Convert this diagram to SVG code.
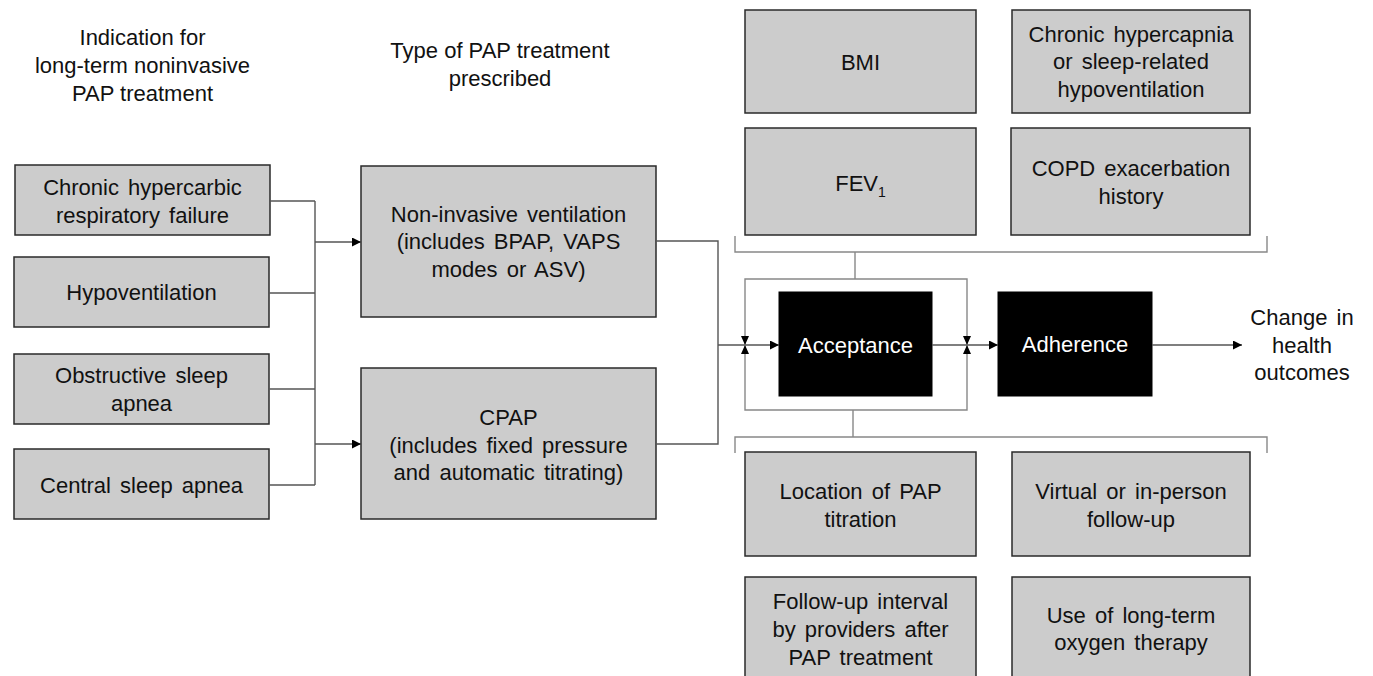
<svg xmlns="http://www.w3.org/2000/svg" width="1373" height="676" viewBox="0 0 1373 676">
<style>
text{font-family:"Liberation Sans",Arial,sans-serif;font-size:22px;fill:#111;text-anchor:middle}
g[id^="n-"] text{word-spacing:3px}
.box{fill:#cccccc;stroke:#2a2a2a;stroke-width:1.5}
.dark{fill:#000;stroke:#000}
.wt{fill:#fff}
.ln{fill:none;stroke:#555;stroke-width:1.4}
.br{fill:none;stroke:#888;stroke-width:1.4}
.sub{font-size:14px}
</style>
<defs>
<marker id="ah" viewBox="0 0 10 10" refX="10" refY="5" markerWidth="9" markerHeight="9" markerUnits="userSpaceOnUse" orient="auto">
<path d="M0,0 L10,5 L0,10 z" fill="#000"/>
</marker>
</defs>
<g id="headers">
<text x="142.5" y="45">Indication for</text>
<text x="142.5" y="73">long-term noninvasive</text>
<text x="142.5" y="101">PAP treatment</text>
<text x="500" y="58">Type of PAP treatment</text>
<text x="500" y="86">prescribed</text>
</g>
<g id="n-chronic-hypercarbic"><rect class="box" x="15" y="165" width="255" height="70"/>
<text x="142.5" y="195">Chronic hypercarbic</text><text x="142.5" y="222.5">respiratory failure</text></g>
<g id="n-hypoventilation"><rect class="box" x="14" y="257" width="255" height="70"/>
<text x="141.5" y="300">Hypoventilation</text></g>
<g id="n-osa"><rect class="box" x="14" y="354" width="255" height="70"/>
<text x="141.5" y="383">Obstructive sleep</text><text x="141.5" y="410.5">apnea</text></g>
<g id="n-csa"><rect class="box" x="14" y="449" width="255" height="70"/>
<text x="141.5" y="493">Central sleep apnea</text></g>
<g id="n-niv"><rect class="box" x="361" y="166" width="295" height="151"/>
<text x="508.5" y="221.5">Non-invasive ventilation</text><text x="508.5" y="249">(includes BPAP, VAPS</text><text x="508.5" y="276.5">modes or ASV)</text></g>
<g id="n-cpap"><rect class="box" x="361" y="368" width="295" height="151"/>
<text x="508.5" y="425">CPAP</text><text x="508.5" y="452.5">(includes fixed pressure</text><text x="508.5" y="480">and automatic titrating)</text></g>
<g id="n-bmi"><rect class="box" x="745" y="10" width="231" height="103"/>
<text x="860.5" y="70">BMI</text></g>
<g id="n-hypercapnia"><rect class="box" x="1012" y="10" width="238" height="103"/>
<text x="1131" y="41.5">Chronic hypercapnia</text><text x="1131" y="69">or sleep-related</text><text x="1131" y="96.5">hypoventilation</text></g>
<g id="n-fev1"><rect class="box" x="745" y="128" width="231" height="107"/>
<text x="860.5" y="191">FEV<tspan class="sub" dy="6">1</tspan></text></g>
<g id="n-copd"><rect class="box" x="1011" y="128" width="239" height="107"/>
<text x="1131" y="176">COPD exacerbation</text><text x="1131" y="203.5">history</text></g>
<g id="n-acceptance"><rect class="dark" x="779" y="292" width="153" height="104"/>
<text class="wt" x="855.5" y="353">Acceptance</text></g>
<g id="n-adherence"><rect class="dark" x="998" y="292" width="154" height="104"/>
<text class="wt" x="1075" y="352">Adherence</text></g>
<g id="n-outcomes">
<text x="1302" y="325">Change in</text><text x="1302" y="353">health</text><text x="1302" y="380">outcomes</text></g>
<g id="n-location"><rect class="box" x="745" y="452" width="231" height="104"/>
<text x="860.5" y="499">Location of PAP</text><text x="860.5" y="526.5">titration</text></g>
<g id="n-virtual"><rect class="box" x="1012" y="452" width="238" height="104"/>
<text x="1131" y="499">Virtual or in-person</text><text x="1131" y="526.5">follow-up</text></g>
<g id="n-interval"><rect class="box" x="745" y="577" width="231" height="104"/>
<text x="860.5" y="609">Follow-up interval</text><text x="860.5" y="637">by providers after</text><text x="860.5" y="665">PAP treatment</text></g>
<g id="n-oxygen"><rect class="box" x="1012" y="577" width="238" height="104"/>
<text x="1131" y="622.5">Use of long-term</text><text x="1131" y="650">oxygen therapy</text></g>
<g id="connectors">
<path class="ln" d="M270,201 H315 M269,293 H315 M269,389 H315 M269,485 H315 M315,201 V485"/>
<path class="ln" d="M315,242 H361" marker-end="url(#ah)"/>
<path class="ln" d="M315,444 H361" marker-end="url(#ah)"/>
<path class="ln" d="M656,241 H718 V444 H656"/>
<path class="ln" d="M718,345 H779" marker-end="url(#ah)"/>
<path class="ln" d="M932,345 H998" marker-end="url(#ah)"/>
<path class="ln" d="M1152,345 H1242" marker-end="url(#ah)"/>
<path class="br" d="M735,236 V252 H1267 V236 M855,252 V279"/>
<path class="br" d="M745,345 V279 H967 V345"/>
<path class="br" d="M745,345 V410 H967 V345"/>
<path class="br" d="M853,410 V437 M735,453 V437 H1267 V453"/>
<path d="M741,336 L749,336 L745,345 z M741,354 L749,354 L745,345 z M963,336 L971,336 L967,345 z M963,354 L971,354 L967,345 z" fill="#000"/>
</g>
</svg>
